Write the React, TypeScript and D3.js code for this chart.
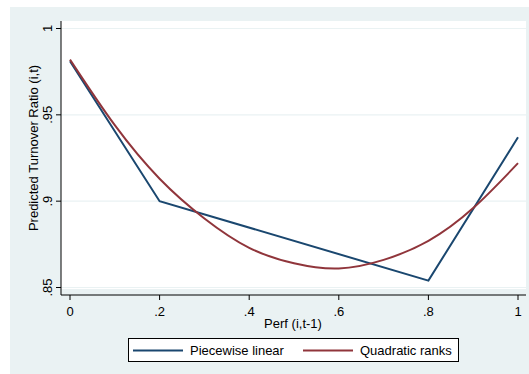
import React from "react";
import * as d3 from "d3";

// values
const perfTicks = [0, 0.2, 0.4, 0.6, 0.8, 1];
const perfTickLabels = ["0", ".2", ".4", ".6", ".8", "1"];
const ratioTicks = [0.85, 0.9, 0.95, 1];
const ratioTickLabels = [".85", ".9", ".95", "1"];

const piecewisePerf = [0, 0.2, 0.8, 1];
const piecewiseRatio = [0.981, 0.9, 0.854, 0.937];

const quadPerf = [0, 0.1, 0.2, 0.3, 0.4, 0.5, 0.6, 0.7, 0.8, 0.9, 1];
const quadRatio = [0.982, 0.944, 0.913, 0.89, 0.873, 0.864, 0.861, 0.866, 0.877, 0.896, 0.922];

const seriesNames = ["Piecewise linear", "Quadratic ranks"];
const seriesColors = ["#1A476F", "#90353B"];

const W = 529;
const H = 374;
const font = "Arial, 'Liberation Sans', sans-serif";

export default function App() {
  const x = d3.scaleLinear().domain([0, 1]).range([70, 518]);
  const y = d3.scaleLinear().domain([0.85, 1]).range([287.5, 28.5]);

  const line = d3
    .line<[number, number]>()
    .x((d) => x(d[0]))
    .y((d) => y(d[1]));
  const curve = d3
    .line<[number, number]>()
    .x((d) => x(d[0]))
    .y((d) => y(d[1]))
    .curve(d3.curveNatural);

  const piecewise = piecewisePerf.map((p, i) => [p, piecewiseRatio[i]] as [number, number]);
  const quad = quadPerf.map((p, i) => [p, quadRatio[i]] as [number, number]);

  const plotL = 61;
  const plotR = 526;
  const plotT = 21;
  const plotB = 289;
  const axisY = 295;

  return (
    <svg
      width={W}
      height={H}
      style={{ position: "absolute", left: 0, top: 0, fontFamily: font }}
    >
      <rect x={0} y={0} width={W} height={H} fill="#ffffff" />
      <rect x={10} y={7} width={W - 10} height={H - 7} fill="#EAF2F3" />
      <rect x={plotL} y={plotT} width={plotR - plotL} height={plotB - plotT} fill="#ffffff" />

      {/* grid */}
      {ratioTicks.map((t) => (
        <line key={"g" + t} x1={plotL} x2={plotR} y1={y(t)} y2={y(t)} stroke="#EAF2F3" strokeWidth={1.2} />
      ))}

      {/* y axis */}
      <line x1={plotL} x2={plotL} y1={plotT} y2={axisY} stroke="#000" strokeWidth={1} />
      {ratioTicks.map((t, i) => (
        <g key={"y" + t}>
          <line x1={plotL - 5} x2={plotL} y1={y(t)} y2={y(t)} stroke="#000" />
          <text
            transform={`translate(52,${y(t)}) rotate(-90)`}
            textAnchor="middle"
            fontSize={13}
            fill="#000"
          >
            {ratioTickLabels[i]}
          </text>
        </g>
      ))}
      <text
        transform={`translate(38,148) rotate(-90)`}
        textAnchor="middle"
        fontSize={13}
        fill="#000"
      >
        Predicted Turnover Ratio (i,t)
      </text>

      {/* x axis */}
      <line x1={plotL} x2={plotR} y1={axisY} y2={axisY} stroke="#000" strokeWidth={1} />
      {perfTicks.map((t, i) => (
        <g key={"x" + t}>
          <line x1={x(t)} x2={x(t)} y1={axisY} y2={axisY + 5} stroke="#000" />
          <text x={x(t)} y={316} textAnchor="middle" fontSize={13} fill="#000">
            {perfTickLabels[i]}
          </text>
        </g>
      ))}
      <text x={293} y={328} textAnchor="middle" fontSize={13} fill="#000">
        Perf (i,t-1)
      </text>

      {/* series */}
      <path d={line(piecewise) ?? ""} fill="none" stroke={seriesColors[0]} strokeWidth={2} />
      <path d={curve(quad) ?? ""} fill="none" stroke={seriesColors[1]} strokeWidth={2} />

      {/* legend */}
      <rect x={128.5} y={338.5} width={330} height={23} fill="#fff" stroke="#000" strokeWidth={1} />
      {seriesNames.map((name, i) => {
        const lx = i === 0 ? 133 : 303;
        return (
          <g key={name}>
            <line x1={lx} x2={lx + 50} y1={350.5} y2={350.5} stroke={seriesColors[i]} strokeWidth={2} />
            <text x={lx + 57} y={355} fontSize={13} fill="#000">
              {name}
            </text>
          </g>
        );
      })}
    </svg>
  );
}
